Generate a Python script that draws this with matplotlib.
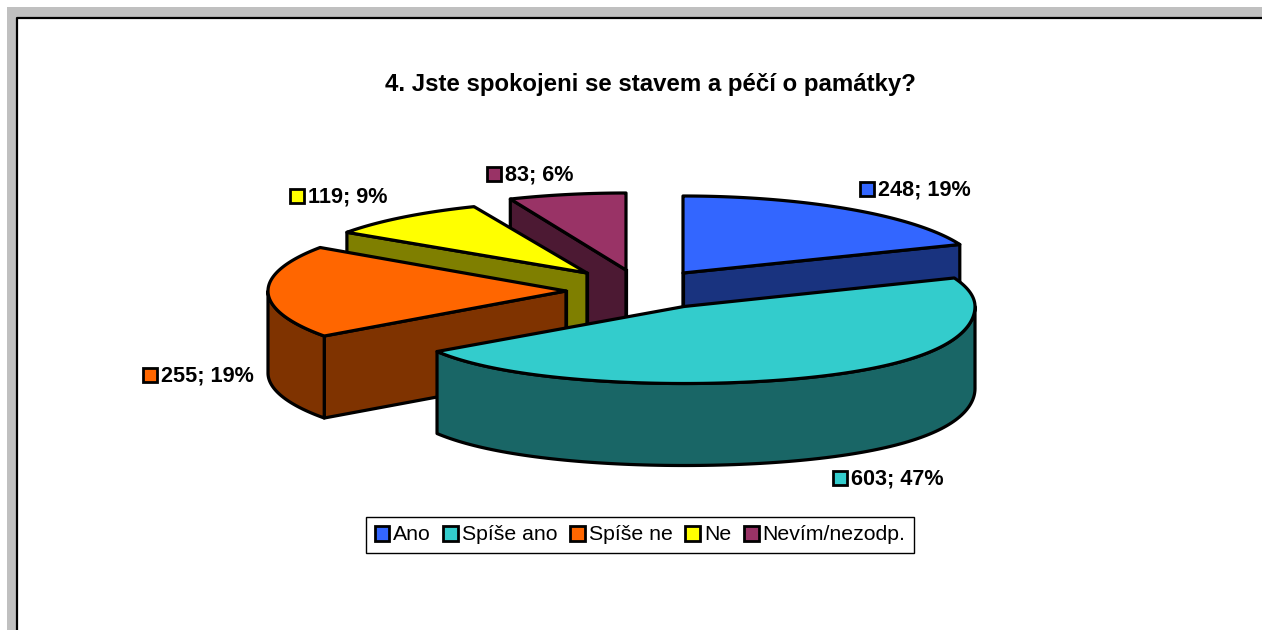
import numpy as np
import matplotlib
matplotlib.use("Agg")
import matplotlib.pyplot as plt
from matplotlib.patches import Patch, Polygon, Rectangle

plt.rcParams["font.family"] = ["Liberation Sans", "DejaVu Sans"]

# data
categories = ["Ano", "Spíše ano", "Spíše ne", "Ne", "Nevím/nezodp."]
values = [248, 603, 255, 119, 83]
percents = [19, 47, 19, 9, 6]
title = "4. Jste spokojeni se stavem a péčí o památky?"

# colours
top_colors = ["#3366FF", "#33CCCC", "#FF6600", "#FFFF00", "#993366"]
side_colors = ["#19337F", "#196666", "#7F3300", "#7F7F00", "#4C1933"]

# pie geometry, all in pixels
rx = [298, 291, 298, 291, 298]
ry = [77, 77, 77, 72, 77]
depth = 82
apex_x = [683, 684, 566, 587, 626]
apex_y = [273, 306.5, 291, 273, 270]
front_stretch = [0, 0.135, 0, 0, 0]  # cyan slice comes out wider at the front
draw_order = [4, 3, 2, 0, 1]

# data label anchors (left edge of key, centre height)
label_x = [860, 833, 143, 290, 487]
label_y = [189, 478, 375, 196, 174]

fig = plt.figure(figsize=(12.62, 6.30), dpi=100)
ax = fig.add_axes([0, 0, 1, 1])
ax.set_xlim(0, 1262)
ax.set_ylim(630, 0)
ax.axis("off")

# grey window frame
ax.add_patch(Rectangle((7, 7), 1255, 623, fc="#C0C0C0", ec="none", zorder=0))
ax.add_patch(Rectangle((17, 18), 1245, 612, fc="white", ec="none", zorder=0.5))
ax.plot([17, 17, 1262], [630, 17.5, 17.5], color="black", lw=1.6, zorder=0.6)


def edge_point(i, angle):
    # angle in degrees, clockwise from the top of the ellipse
    a = np.radians(angle)
    stretch = 1 + front_stretch[i] * np.maximum(0, -np.cos(a)) ** 2
    x = apex_x[i] + rx[i] * np.sin(a) * stretch
    y = apex_y[i] - ry[i] * np.cos(a)
    return x, y


def face(points, color, z):
    ax.add_patch(Polygon(points, closed=True, fc=color, ec="black", lw=2.3,
                         joinstyle="round", zorder=z))


shares = np.array(values) / sum(values) * 360
ends = np.cumsum(shares)
starts = ends - shares

for n, i in enumerate(draw_order):
    a0, a1 = starts[i], ends[i]
    z = 2 + n
    ax_, ay_ = apex_x[i], apex_y[i]

    # cut faces that turn towards the viewer
    for angle, normal in ((a0, a0 - 90), (a1, a1 + 90)):
        if np.cos(np.radians(normal)) < -1e-6:
            ex, ey = edge_point(i, angle)
            face([(ax_, ay_), (ex, ey), (ex, ey + depth), (ax_, ay_ + depth)],
                 side_colors[i], z)
    # vertical edge where the cut is seen edge on
    ax.plot([ax_, ax_], [ay_, ay_ + depth], color="black", lw=2.3, zorder=z)

    # outer rim, front half only
    r0, r1 = max(a0, 90), min(a1, 270)
    if r1 > r0:
        t = np.linspace(r0, r1, 120)
        x, y = edge_point(i, t)
        rim = np.r_[np.c_[x, y], np.c_[x[::-1], y[::-1] + depth]]
        face(rim, side_colors[i], z)

    # top surface
    t = np.linspace(a0, a1, 160)
    x, y = edge_point(i, t)
    face(np.r_[[(ax_, ay_)], np.c_[x, y]], top_colors[i], z + 0.5)

# data labels with their colour keys
for i in range(len(values)):
    ax.add_patch(Rectangle((label_x[i], label_y[i] - 7), 14, 14, fc=top_colors[i],
                           ec="black", lw=2, zorder=20))
    ax.text(label_x[i] + 18, label_y[i] + 1, f"{values[i]}; {percents[i]}%",
            fontsize=15.6, fontweight="bold", ha="left", va="center", zorder=20)

ax.text(650, 85, title, fontsize=17.3, fontweight="bold", ha="center", va="center")

handles = [Patch(fc=c, ec="black", lw=2) for c in top_colors]
ax.legend(handles, categories, loc="upper left", bbox_to_anchor=(366, 517),
          bbox_transform=ax.transData, ncol=5, fontsize=15.3, frameon=True,
          fancybox=False, framealpha=1, edgecolor="black", borderaxespad=0,
          handlelength=0.7, handleheight=0.7, handletextpad=0.17,
          columnspacing=0.6, borderpad=0.4).get_frame().set_linewidth(1.0)

fig.savefig("out.png", dpi=100)
